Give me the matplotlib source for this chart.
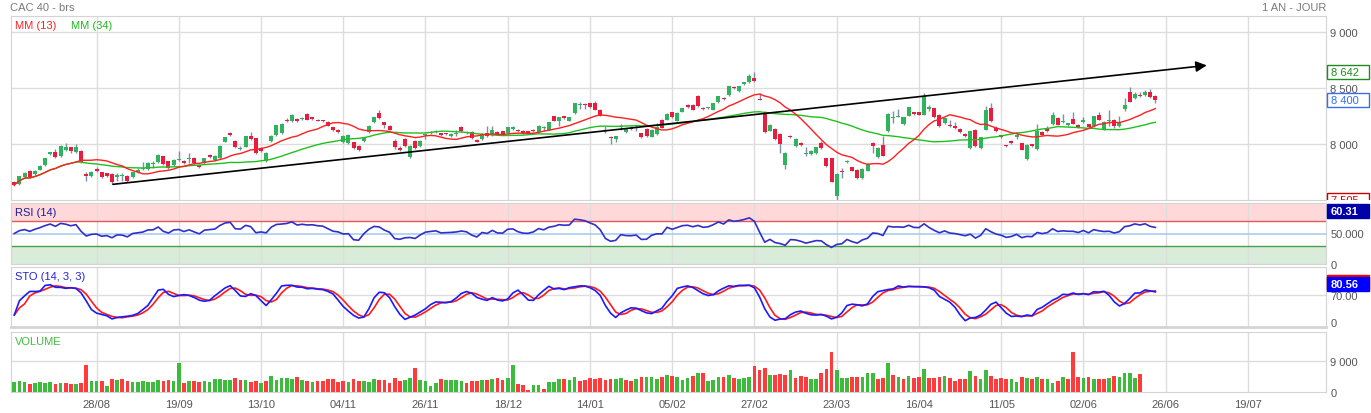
import numpy as np
import pandas as pd
import matplotlib
matplotlib.use("Agg")
import matplotlib.pyplot as plt
from matplotlib.patches import Rectangle
from matplotlib.transforms import IdentityTransform, Bbox

plt.rcParams['font.family'] = ['Liberation Sans', 'DejaVu Sans']

# ----- daily candles (one per session) -----
opens = [
    7667, 7646, 7712, 7765, 7732, 7774, 7815, 7917, 7929, 7893,
    7952, 7973, 7929, 7943, 7735, 7720, 7780, 7750, 7741, 7735,
    7705, 7714, 7720, 7711, 7752, 7778, 7780, 7827, 7839, 7893,
    7848, 7818, 7860, 7851, 7866, 7875, 7818, 7833, 7905, 7857,
    7875, 8024, 8098, 8033, 7960, 7979, 8077, 8054, 7967, 7854,
    8033, 8080, 8100, 8217, 8208, 8226, 8228, 8271, 8241, 8220,
    8210, 8202, 8152, 8131, 8018, 8012, 8018, 7988, 8033, 8107,
    8196, 8277, 8196, 8167, 8027, 7964, 8048, 7884, 8033, 7982,
    8085, 8103, 8107, 8098, 8092, 8071, 8095, 8152, 8110, 8113,
    8039, 8048, 8101, 8092, 8113, 8116, 8101, 8137, 8131, 8122,
    8116, 8131, 8113, 8148, 8131, 8250, 8211, 8250, 8211, 8277,
    8354, 8352, 8366, 8366, 8306, 8118, 8062, 8048, 8158, 8113,
    8142, 8148, 8098, 8137, 8068, 8092, 8220, 8220, 8286, 8211,
    8292, 8351, 8351, 8435, 8327, 8322, 8310, 8375, 8414, 8440,
    8505, 8476, 8536, 8557, 8595, 8405, 8286, 8122, 8137, 8092,
    7815, 8077, 7988, 8012, 7913, 7914, 7923, 8012, 7875, 7875,
    7542, 7752, 7839, 7795, 7774, 7696, 7765, 8012, 7884, 7997,
    8116, 8238, 8246, 8179, 8256, 8286, 8286, 8265, 8315, 8321,
    8265, 8187, 8173, 8167, 8137, 8092, 7964, 8128, 7964, 8131,
    8321, 8143, 8075, 7985, 8033, 8062, 8009, 7869, 8000, 7958,
    8113, 8143, 8182, 8238, 8198, 8173, 8226, 8173, 8196, 8179,
    8161, 8265, 8137, 8205, 8217, 8161, 8315, 8464, 8411, 8440,
    8440, 8470, 8430,
]
highs = [
    7675, 7720, 7752, 7772, 7768, 7815, 7880, 7935, 7958, 7997,
    8010, 7980, 8000, 7952, 7750, 7762, 7795, 7756, 7748, 7740,
    7745, 7745, 7728, 7755, 7790, 7839, 7845, 7850, 7910, 7900,
    7855, 7866, 7943, 7860, 7920, 7884, 7824, 7880, 7912, 7905,
    7995, 8068, 8110, 8040, 7985, 8078, 8114, 8060, 7975, 7930,
    8082, 8176, 8190, 8235, 8272, 8235, 8240, 8278, 8247, 8226,
    8218, 8208, 8158, 8136, 8082, 8090, 8024, 7994, 8068, 8172,
    8246, 8310, 8203, 8172, 8045, 7985, 8054, 7994, 8040, 8040,
    8100, 8115, 8128, 8104, 8098, 8098, 8125, 8160, 8122, 8120,
    8048, 8098, 8167, 8167, 8120, 8122, 8158, 8164, 8137, 8128,
    8122, 8137, 8172, 8167, 8200, 8256, 8245, 8256, 8245, 8372,
    8375, 8372, 8372, 8390, 8312, 8167, 8078, 8075, 8182, 8150,
    8160, 8167, 8104, 8143, 8134, 8190, 8228, 8277, 8292, 8286,
    8327, 8357, 8360, 8441, 8333, 8330, 8372, 8435, 8420, 8524,
    8520, 8524, 8560, 8630, 8642, 8455, 8300, 8179, 8143, 8098,
    7929, 8083, 8054, 8018, 7973, 7950, 7980, 8030, 7881, 7881,
    7740, 7790, 7860, 7800, 7780, 7786, 7830, 8018, 7973, 8075,
    8277, 8300, 8320, 8247, 8336, 8292, 8292, 8455, 8351, 8327,
    8271, 8238, 8220, 8196, 8143, 8098, 8122, 8134, 8068, 8345,
    8369, 8167, 8085, 7995, 8039, 8113, 8015, 8000, 8006, 8179,
    8119, 8167, 8292, 8244, 8271, 8193, 8286, 8179, 8241, 8185,
    8256, 8292, 8208, 8304, 8223, 8250, 8414, 8508, 8470, 8470,
    8488, 8494, 8440,
]
lows = [
    7628, 7640, 7705, 7700, 7725, 7768, 7808, 7905, 7878, 7888,
    7945, 7920, 7922, 7835, 7672, 7712, 7752, 7698, 7712, 7650,
    7676, 7676, 7668, 7700, 7745, 7770, 7775, 7790, 7830, 7818,
    7782, 7810, 7851, 7825, 7830, 7828, 7786, 7826, 7880, 7848,
    7868, 8018, 8078, 7966, 7950, 7972, 8040, 7915, 7930, 7845,
    8025, 8074, 8094, 8200, 8200, 8200, 8218, 8214, 8220, 8205,
    8198, 8160, 8120, 8105, 8012, 8005, 7958, 7940, 8025, 8100,
    8190, 8226, 8150, 8125, 7955, 7940, 7975, 7876, 7958, 7975,
    8045, 8095, 8100, 8078, 8080, 8065, 8075, 8110, 8095, 8048,
    8018, 8042, 8070, 8077, 8082, 8080, 8095, 8130, 8112, 8092,
    8090, 8110, 8107, 8122, 8125, 8205, 8167, 8230, 8205, 8270,
    8318, 8318, 8324, 8304, 8250, 8105, 8000, 8024, 8130, 8105,
    8130, 8120, 8060, 8065, 8062, 8086, 8145, 8214, 8235, 8205,
    8286, 8324, 8304, 8333, 8310, 8316, 8304, 8368, 8398, 8434,
    8490, 8470, 8530, 8550, 8560, 8393, 8098, 8116, 8040, 7925,
    7780, 8055, 7980, 7985, 7900, 7905, 7915, 7960, 7800, 7660,
    7505, 7700, 7830, 7760, 7690, 7690, 7758, 7920, 7878, 7893,
    8110, 8190, 8240, 8172, 8250, 8265, 8258, 8258, 8300, 8235,
    8155, 8180, 8152, 8137, 8100, 8065, 7958, 7976, 7958, 8125,
    8199, 8110, 8060, 7975, 8006, 8050, 7946, 7863, 7976, 7952,
    8077, 8113, 8176, 8170, 8190, 8167, 8179, 8146, 8190, 8146,
    8155, 8214, 8131, 8160, 8150, 8155, 8300, 8375, 8405, 8420,
    8434, 8414, 8372,
]
closes = [
    7637, 7714, 7745, 7705, 7762, 7810, 7875, 7929, 7884, 7988,
    7973, 7943, 7979, 7839, 7714, 7756, 7765, 7705, 7720, 7661,
    7726, 7720, 7676, 7750, 7768, 7783, 7833, 7836, 7905, 7824,
    7789, 7860, 7872, 7833, 7872, 7833, 7795, 7875, 7887, 7899,
    7988, 8062, 8083, 7973, 7968, 8071, 8048, 7923, 7943, 7923,
    8077, 8170, 8185, 8205, 8265, 8208, 8232, 8220, 8226, 8211,
    8205, 8167, 8125, 8113, 8077, 8083, 7964, 7952, 8062, 8167,
    8241, 8232, 8173, 8131, 7973, 7952, 7982, 7988, 7964, 8033,
    8092, 8106, 8122, 8083, 8088, 8092, 8100, 8116, 8104, 8054,
    8024, 8092, 8077, 8128, 8089, 8086, 8152, 8158, 8119, 8098,
    8096, 8116, 8167, 8152, 8196, 8211, 8241, 8235, 8241, 8366,
    8360, 8351, 8330, 8310, 8256, 8120, 8058, 8071, 8160, 8143,
    8140, 8150, 8068, 8071, 8128, 8152, 8150, 8271, 8241, 8280,
    8321, 8330, 8310, 8339, 8315, 8324, 8366, 8429, 8405, 8518,
    8500, 8518, 8554, 8607, 8566, 8396, 8107, 8173, 8048, 8003,
    7923, 8062, 8048, 7994, 7915, 7943, 7973, 7965, 7810, 7667,
    7735, 7750, 7854, 7765, 7699, 7780, 7824, 7982, 7967, 7899,
    8271, 8247, 8252, 8241, 8330, 8271, 8265, 8435, 8330, 8241,
    8161, 8232, 8161, 8143, 8107, 8071, 8116, 7982, 8062, 8307,
    8205, 8116, 8070, 7982, 8012, 8083, 7952, 7994, 7982, 8122,
    8083, 8119, 8262, 8176, 8200, 8187, 8185, 8152, 8214, 8152,
    8250, 8220, 8202, 8210, 8167, 8202, 8351, 8381, 8449, 8428,
    8470, 8420, 8400,
]
# volume is published with a few sessions of delay
volumes = [
    2900, 3300, 2800, 2300, 2600, 2900, 2500, 3000, 2200, 2700,
    2700, 2200, 2400, 2600, 7900, 3100, 3100, 3200, 1800, 3800,
    3400, 3900, 3300, 2800, 3000, 3300, 3000, 3000, 3600, 3200,
    3400, 3300, 8600, 2600, 3200, 3200, 2900, 3200, 3000, 3900,
    3900, 3500, 3400, 4200, 3500, 3500, 3000, 3300, 2700, 3200,
    4600, 3400, 4200, 4100, 3700, 4400, 3500, 3200, 2800, 3100,
    3100, 3800, 3700, 2900, 3200, 2900, 3700, 3200, 3200, 2800,
    3700, 3500, 3500, 2600, 4100, 3200, 3600, 4200, 7000, 3600,
    3200, 1800, 2700, 3900, 3400, 3600, 3600, 3200, 2700, 3300,
    3200, 3600, 3600, 3800, 4100, 3600, 4100, 8000, 2200, 2100,
    500, 2100, 1900, 1000, 2900, 3000, 3800, 3900, 3400, 4400,
    3100, 3600, 4100, 3900, 4200, 3400, 3900, 3900, 4100, 3400,
    3200, 3800, 4500, 4400, 4400, 3700, 4400, 5000, 4600, 4500,
    3600, 4200, 4600, 5400, 5500, 3100, 3600, 4400, 4500, 5100,
    4100, 3900, 4100, 4400, 7700, 6300, 6900, 5100, 5100, 5300,
    4900, 6400, 4000, 4600, 4500, 3700, 3700, 5600, 6800, 11700,
    6500, 4200, 4200, 4500, 4300, 4500, 5500, 5400, 3900, 4200,
    8400, 5000, 4500, 3900, 4600, 4200, 4400, 6800, 4100, 4100,
    4500, 4600, 4200, 3200, 3900, 3900, 6100, 4700, 3900, 6300,
    4800, 3900, 4100, 3900, 3700, 2900, 4400, 4200, 3900, 4400,
    3900, 3700, 2700, 3300, 4500, 3900, 11600, 4500, 4200, 4400,
    3900, 3900, 3900, 4100, 4700, 4400, 5500, 5400, 4200, 5200,
]
tick_idx = [16, 32, 48, 64, 80, 96, 112, 128, 144, 160, 176, 192, 208, 224, 240]
tick_labels = ['28/08', '19/09', '13/10', '04/11', '26/11', '18/12', '14/01', '05/02',
               '27/02', '23/03', '16/04', '11/05', '02/06', '26/06', '19/07']
# hand-drawn trend line (session index, price)
trend_idx = [19.2, 232.0]
trend_val = [7643, 8705]
rsi_last = 60.31
sto_last = 80.56

# ----- indicators -----
c = pd.Series(closes, dtype=float)
hi = pd.Series(highs, dtype=float)
lo = pd.Series(lows, dtype=float)
mm13 = c.rolling(13, min_periods=1).mean()
mm34 = c.rolling(34, min_periods=1).mean()

delta = c.diff().fillna(0).values
ag = al = np.abs(delta[1:15]).mean() / 2
rsi = []
for d in delta:
    ag = (ag * 13 + max(d, 0)) / 14
    al = (al * 13 + max(-d, 0)) / 14
    rsi.append(100 - 100 / (1 + ag / al))

ll = lo.rolling(14, min_periods=1).min()
hh = hi.rolling(14, min_periods=1).max()
raw_k = 100 * (c - ll) / (hh - ll)
sto_k = raw_k.rolling(3, min_periods=1).mean()
sto_d = sto_k.rolling(3, min_periods=1).mean()

# ----- figure layout (pixel based) -----
W, H = 1371, 414
fig = plt.figure(figsize=(W / 100, H / 100), dpi=100)
fig.patch.set_facecolor('white')
left, right = 10.7, 1326


def panel(top, bottom):
    return fig.add_axes([left / W, 1 - bottom / H, (right - left) / W, (bottom - top) / H])


ax = panel(17, 201)
ax_rsi = panel(204, 265)
ax_sto = panel(268, 328)
ax_vol = panel(333, 393)

GRID = '#dddddd'
LABEL = '#555555'
for a in (ax, ax_rsi, ax_sto, ax_vol):
    a.set_xlim(-0.7, 255.2)
    for s in a.spines.values():
        s.set_color('#d4d4d4')
    for t in tick_idx:
        a.axvline(t, color=GRID, lw=1, zorder=0.5)
    a.set_xticks(tick_idx)
    a.tick_params(axis='x', length=0, labelbottom=False)
    a.yaxis.tick_right()
    a.tick_params(axis='y', length=0, pad=3, labelsize=8, labelcolor=LABEL)
ax_sto.spines['bottom'].set_linewidth(2)


def fmt(v):
    return f"{v:,.0f}".replace(',', ' ')


# ----- price panel -----
ax.set_ylim(7503, 9146)
main_ticks = [8000, 8500, 9000]
for v in main_ticks:
    ax.axhline(v, color=GRID, lw=1, zorder=0.5)
ax.set_yticks(main_ticks)
ax.set_yticklabels([fmt(v) for v in main_ticks])

idx = np.arange(len(closes))
up = np.array(closes) >= np.array(opens)
body_lo = np.minimum(opens, closes)
body_h = np.maximum(np.abs(np.array(closes) - np.array(opens)), 10)
ax.vlines(idx, lows, highs, color='#7d8ea8', lw=1, zorder=2)
ax.bar(idx, body_h, bottom=body_lo, width=0.78,
       color=np.where(up, '#2fb35c', '#e81c3f'), zorder=3)
ax.plot(idx, mm34, color='#1fc01f', lw=1, zorder=4)
ax.plot(idx, mm13, color='#ff1f1f', lw=1, zorder=4)
ax.annotate('', xy=(trend_idx[1], trend_val[1]), xytext=(trend_idx[0], trend_val[0]),
            arrowprops=dict(arrowstyle='-|>', color='black', lw=1.2, mutation_scale=16,
                            shrinkA=0, shrinkB=0), zorder=5, annotation_clip=False)
ax.text(0.0033, 0.951, 'MM (13)', transform=ax.transAxes, color='#ff2020', fontsize=8, va='center')
ax.text(0.0458, 0.951, 'MM (34)', transform=ax.transAxes, color='#1fb81f', fontsize=8, va='center')

# ----- RSI panel -----
ax_rsi.set_ylim(0, 100)
ax_rsi.axhspan(70, 100, color='#ffd9d9', lw=0, zorder=0.2)
ax_rsi.axhspan(0, 30, color='#d9ebd9', lw=0, zorder=0.2)
ax_rsi.axhline(70, color='#e05a5a', lw=1, zorder=1)
ax_rsi.axhline(30, color='#4a9f4a', lw=1, zorder=1)
ax_rsi.axhline(50, color='#a8cdf2', lw=1.2, zorder=1)
ax_rsi.plot(idx, rsi, color='#3030c8', lw=1.2, zorder=3)
ax_rsi.set_yticks([0, 50])
ax_rsi.set_yticklabels(['0', '50.000'])
ax_rsi.text(0.0033, 0.85, 'RSI (14)', transform=ax_rsi.transAxes, color='#1c1c9c', fontsize=8, va='center')

# ----- stochastic panel -----
ax_sto.set_ylim(-12, 144)
ax_sto.axhline(70, color=GRID, lw=1, zorder=0.5)
ax_sto.plot(idx, sto_d, color='#ff1a1a', lw=1.2, zorder=3)
ax_sto.plot(idx, sto_k, color='#1a1aff', lw=1.2, zorder=4)
ax_sto.set_yticks([0, 70])
ax_sto.set_yticklabels(['0', '70.00'])
ax_sto.text(0.0033, 0.85, 'STO (14, 3, 3)', transform=ax_sto.transAxes, color='#2424d8', fontsize=8, va='center')

# ----- volume panel -----
ax_vol.set_ylim(0, 17500)
ax_vol.axhline(9000, color=GRID, lw=1, zorder=0.5)
vidx = np.arange(len(volumes))
vup = np.r_[True, np.diff(closes)[:len(volumes) - 1] >= 0]
ax_vol.bar(vidx, volumes, width=0.72, color=np.where(vup, '#3dbb3d', '#ff3b3b'), zorder=3)
ax_vol.set_yticks([0, 9000])
ax_vol.set_yticklabels(['0', '9 000'])
ax_vol.set_xticklabels(tick_labels)
ax_vol.tick_params(axis='x', labelbottom=True, pad=5, labelsize=8, labelcolor=LABEL)
ax_vol.text(0.0033, 0.85, 'VOLUME', transform=ax_vol.transAxes, color='#40bb40', fontsize=8, va='center')

# ----- header -----
fig.text(10 / W, 1 - 8 / H, 'CAC 40 - brs', color='#7a7a7a', fontsize=8, va='center')
fig.text(1326 / W, 1 - 8 / H, '1 AN - JOUR', color='#7a7a7a', fontsize=8, va='center', ha='right')


# ----- value tags on the right axis -----
def tag(ypix, text, fc, ec, tc, bold=False, clip=None):
    r = Rectangle((1327, ypix - 7), 42, 14, transform=IdentityTransform(),
                  facecolor=fc, edgecolor=ec, lw=1, zorder=5)
    t = fig.text(1331 / W, ypix / H, text, color=tc, fontsize=8, va='center', zorder=6,
                 fontweight='bold' if bold else 'normal')
    if clip is not None:
        r.set_clip_box(clip)
        t.set_clip_box(clip)
        t.set_clip_on(True)
    fig.add_artist(r)


main_clip = Bbox.from_extents(1300, H - 201, W, H - 17)
for val, col in [(max(highs), '#1e8c1e'), (closes[-1], '#3a6cf0'), (min(lows), '#cc0000')]:
    yp = ax.transData.transform((0, val))[1]
    tag(yp, fmt(val), 'white', col, col, clip=main_clip)

tag(H - 212, f"{rsi_last:.2f}", '#0000a8', '#0000a8', 'white', bold=True)
tag(H - 283, '', '#ff0000', '#ff0000', 'white')
tag(H - 285, f"{sto_last:.2f}", '#0000ff', '#0000ff', 'white', bold=True)

fig.savefig('out.png', dpi=100)
